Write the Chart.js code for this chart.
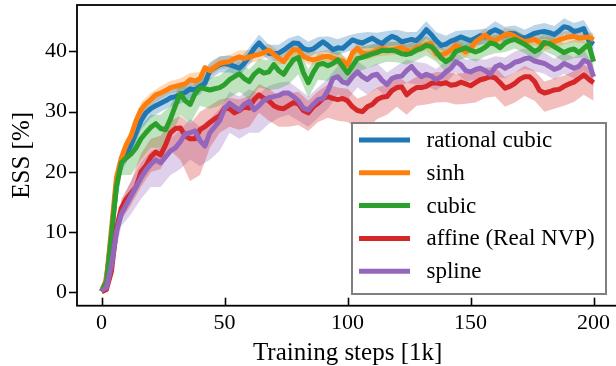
<!DOCTYPE html>
<html>
<head>
<meta charset="utf-8">
<script src="https://cdn.jsdelivr.net/npm/chart.js@4.4.1/dist/chart.umd.min.js"></script>
<style>
  html, body { margin: 0; padding: 0; background: #fff; overflow: hidden; }
  #wrap { width: 625px; height: 366px; }
</style>
</head>
<body>
<div id="wrap"><canvas id="c" width="625" height="366"></canvas></div>
<script>
// Training step grid (in thousands) for the mean curves
const steps = [0,2,4,6,8,10,12,14,16,18,20,22,24,26,28,30,32,34,36,38,40,42,44,46,48,50,52,54,56,58,60,62,64,66,68,70,72,74,76,78,80,82,84,86,88,90,92,94,96,98,100,102,104,106,108,110,112,114,116,118,120,122,124,126,128,130,132,134,136,138,140,142,144,146,148,150,152,154,156,158,160,162,164,166,168,170,172,174,176,178,180,182,184,186,188,190,192,194,196,198,200];
// Coarser grid for the spread bands
const bandSteps = [0,4,8,12,16,20,24,28,32,36,40,44,48,52,56,60,64,68,72,76,80,84,88,92,96,100,104,108,112,116,120,124,128,132,136,140,144,148,152,156,160,164,168,172,176,180,184,188,192,196,200];

const xTicks = [0, 50, 100, 150, 200];
const yTicks = [0, 10, 20, 30, 40];

// Mean ESS [%] per flow type
const rationalCubic = [0.2,2,9.5,18,21.5,23,24.5,26.5,28.5,29.8, 30.5,31,31.4,31.8,32.3,32.5,32.8,33.2,33.8,33.6, 34.2,34.7,36.8,37.3,37.8,38,37.8,37.5,37.2,38, 39.2,40.5,41.4,40.5,39.7,39.6,39.7,40.2,40.8,41.4, 41.3,40.5,40.2,40.4,41,41.6,41,40.3,40.6,40.5, 41.2,41.9,41.6,41.4,41.8,42.2,41.7,41.3,42,42.5, 42.2,41.6,41.8,42,41.8,42.6,43.6,42.8,41.8,41, 41.2,41.7,42,42.4,42.1,41.8,42.2,42.6,42.4,43.2, 43.6,43.2,42.7,43,42.9,42.4,42.2,42.6,43,43.2, 43.3,43.1,42.8,43.4,44.1,43.9,43.3,43.5,43.8,41.8, 41.2];
const sinh = [0.2,2.2,10.5,19,22.3,24.5,26,28.5,30.3,31.3, 32,32.8,33.1,33.5,34,34.2,34.4,34.6,35.3,35.1, 35.5,37.3,36.8,37.4,38,38.2,38.3,38.8,39.1,38.8, 39.1,39.3,39.5,39.8,40.2,39.5,38.9,38.3,39.5,40.3, 40.2,39.2,38.8,38.6,38.8,39.1,39.2,38.9,38.6,38.4, 37.8,39.8,40.5,39.7,39.6,39.8,40.2,40.5,40.3,40.2, 40.5,40.6,40.2,40,40.6,40.8,41.2,41.3,39.6,39.4, 39.7,40.2,41,40.6,39.9,40.5,41.6,42.2,42.7,42, 41.8,42.3,42.8,42.9,42.5,42,41.6,41.8,42,41.5, 41.2,41.4,41.6,41.9,42.2,42.4,42.5,42.2,42.3,42.4, 41.9];
const cubic = [0.2,1.8,9.5,17.5,21.5,22.3,23,24,25.5,26.5, 27.4,28,27.2,27,28.8,31,33,31.8,31.2,33, 34,33.8,33.6,33.8,34,34.5,35.3,35.8,36.3,35.5, 35,36.2,36.9,36.4,36.6,37.8,36.8,36.2,37.5,38.6, 39,36.5,34.8,36.5,37.8,38,37.6,38,38.6,37.5, 36.4,37.6,38.8,39,39.3,39.6,39.8,40.2,40.1,40.2, 40,39.6,39.5,39.7,40.2,40.5,41,40.8,40,38.9, 38.3,38.8,40,40.3,40.6,40.2,39.9,40.2,40.7,41.4, 41.2,40.6,41.4,41.8,42,41.6,41.2,40.6,40,40.4, 41.5,41.3,40.8,40.3,39.8,40.2,40.4,39.8,40.5,41.2, 38.3];
const affine = [0.1,0.5,3.5,10.5,14,15.5,16.5,17.5,20,21, 22.5,23.3,22.8,24.5,26.5,27.2,27.3,26,25.5,25.5, 27,27.5,28.2,28.8,29.3,30.6,30.5,29.8,30.2,30.8, 30.6,32,32.8,32.2,31.8,31,30.6,30.5,31,31.5, 31.3,30.2,29.8,30.8,31.4,32.2,32.5,32.2,32,32.2, 31.8,30.8,30.2,30,30.8,31.2,32,32.4,32.5,33.5, 34,34.1,32.8,33.5,34,34,34.2,34.7,34.8,34.6, 34.8,34.4,34.5,34.9,34.6,34.3,34.8,35.3,35.5,35.8, 35.6,34.8,33.9,34.2,34.7,35.4,35.8,35.8,35,33.5, 33.1,33.3,33.6,33.7,34.2,34.6,34.9,35.5,36.1,35.4, 34.8];
const spline = [0.3,0.8,4.5,10,13,14.5,16,17.5,19,20.3, 21.3,22,21.5,22.5,23.5,24,25,26.3,26.5,26.8, 25.2,24.3,26.5,27.5,28.5,30.5,31.4,30.8,30.3,31.2, 31.7,30.3,31,31.9,32.3,32.5,32.7,33.1,33.1,32.5, 31.8,30.6,30.3,31.2,32,32.2,33.5,35.5,35.8,34.9, 34.7,35.8,36.6,35.8,35.3,36,36.2,35.2,34.5,35.5, 35.8,35.9,36.8,37.5,36.5,35.8,36.2,35.9,35.3,35.8, 36.6,37.2,38.3,37.8,36.8,36.6,37,37.2,36.8,36.2, 37.4,37.8,37.2,37.6,38.2,38.4,38.8,38.9,38.4,38.2, 38,37.5,37,37.3,38,37.6,37.2,37.5,38.5,38.2, 35.8];

// Spread bands (lower / upper) on the coarser grid
const rationalCubicLo = [0.1,8.5,20,23,27,29,30,30.8,31.3,32.2,32.8,35.3,36.5,36.5,36,37.8,40,38.5,38.5,39.6,40.1,39,39.8,39.8,39.4,40,40.4,40.6,40.5,40.8,41,40.6,40.6,42.2,40.6,40,40.8,40.9,41,41.2,42.3,41.5,41.7,41,41.8,42.1,41.6,42.8,42.1,42.5,40];
const rationalCubicHi = [0.3,10.5,22.8,26,30,32,32.8,33.6,34.2,35.2,35.6,38.2,39.2,39.3,38.8,40.6,42.8,41.1,41.1,42.2,42.7,41.6,42.4,42.5,42,42.6,43,43.2,43.1,43.4,43.6,43.2,43.2,45,43.2,42.6,43.4,43.5,43.6,43.8,45,44.1,44.3,43.6,44.4,44.7,44.2,45.5,44.7,45.2,42.5];
const sinhLo = [0.1,9.5,21,24.8,29.2,31,32.1,33,33.3,34.2,34.4,35.8,37,37.3,38.1,38,38.5,39.2,37.8,38.5,39.2,37.8,37.8,38.2,37.6,36.8,39.5,38.6,39.2,39.3,39.5,39.2,39.6,40.2,38.6,38.7,40,38.9,40.6,41.7,40.8,41.8,41.5,40.6,41,40.2,40.6,41.2,41.5,41.3,40.9];
const sinhHi = [0.3,11.5,23.6,27.3,31.5,33.1,34.2,35.1,35.5,36.4,36.6,37.9,39.1,39.4,40.2,40.2,40.6,41.3,40,40.6,41.3,39.9,39.9,40.3,39.7,38.9,41.6,40.7,41.3,41.4,41.6,41.3,41.7,42.3,40.7,40.8,42.1,41,42.7,43.8,42.9,43.9,43.6,42.7,43.1,42.3,42.7,43.3,43.6,43.4,43];
const cubicLo = [0.1,8.5,19.5,19.5,22,24,24,25.5,29.5,28,31,30.5,31,32.3,33.3,32,34,33.6,33.8,34.5,36.2,32.3,35.3,35.1,36.1,34,36.6,37.2,37.8,38.3,38.2,37.8,38.5,39.3,38.3,36.6,38.3,39,38.3,39.2,39.7,39.9,40.5,39.7,38.5,40,39.3,38.3,38.9,39,36.8];
const cubicHi = [0.3,10.5,23,25,27.8,29.5,29.5,31,35,33.5,36,35.6,36,37.3,38.3,37,38.8,38.5,38.7,39.4,40.8,37,39.8,39.5,40.4,38.4,40.5,41,41.4,41.7,41.6,41.1,41.8,42.6,41.6,40,41.6,42.2,41.5,42.3,42.7,42.9,43.5,42.7,41.5,43,42.3,41.3,41.9,42,39.8];
const affineLo = [0,2.5,12,14.5,17.5,20,20.5,23.5,22,18.5,19.5,24,26.5,27.5,27,27.5,29.8,28.5,27.5,27.5,27.8,26.8,28.3,29,28.5,28.3,27,27.2,28.8,29.5,30.8,29.5,31,31.2,31.5,31.6,31.2,31.3,31.5,32.3,32.5,30.8,31.5,32.6,31.8,30,30.5,31,31.6,32.8,31.8];
const affineHi = [0.2,4.5,15.5,18.5,23,25.5,26,28.5,29.3,28,30,31,32,32.3,32,32.6,34.6,33.8,32.6,33,33.3,31.8,33.4,34.5,34,33.8,32.2,32.8,34,34.5,36,34.8,35.8,36,36.6,36.6,36.3,36.4,36.6,37.3,37.4,35.7,36.5,37.6,36.8,35,35.5,36,36.7,37.9,36.6];
const splineLo = [0.2,3.5,11,13,15.5,17.5,17.5,19.5,20.5,22,21,22,23.5,26.5,25.5,26.5,26.5,28,29,29.5,28.5,27.5,29,30.5,32.8,32,34,32.8,33.8,32.3,33.8,34.8,34.5,34.3,33.5,34.8,36.5,35,35.3,35.1,35.7,35.5,36.5,37.1,36.7,36.3,35.3,36.3,35.5,36.8,34];
const splineHi = [0.4,5.5,15,18.5,21.5,23.5,24,25.5,27,28.8,27.5,28.8,30.5,33.3,32.5,33.7,33,34.3,34.8,35,33.8,32.5,34,35.5,37.6,36.6,38.4,37.2,38,36.5,37.6,38.6,38.3,38,37.1,38.4,40,38.6,38.8,38.6,39.2,39,40,40.5,40.1,39.8,38.8,39.8,39,40.3,37.6];

const series = [
  { label: 'rational cubic', color: '#1f77b4', mean: rationalCubic, lo: rationalCubicLo, hi: rationalCubicHi },
  { label: 'sinh', color: '#ff7f0e', mean: sinh, lo: sinhLo, hi: sinhHi },
  { label: 'cubic', color: '#2ca02c', mean: cubic, lo: cubicLo, hi: cubicHi },
  { label: 'affine (Real NVP)', color: '#d62728', mean: affine, lo: affineLo, hi: affineHi },
  { label: 'spline', color: '#9467bd', mean: spline, lo: splineLo, hi: splineHi }
];

function withAlpha(hex, a) {
  const n = parseInt(hex.slice(1), 16);
  return `rgba(${(n >> 16) & 255},${(n >> 8) & 255},${n & 255},${a})`;
}
const pts = (xs, ys) => xs.map((x, i) => ({ x, y: ys[i] }));

const datasets = [];
series.forEach((s, k) => {
  datasets.push({
    label: s.label + ' lo', data: pts(bandSteps, s.lo), isBand: true,
    borderWidth: 0, borderColor: 'transparent', pointRadius: 0, fill: false, order: 20 + k
  });
  datasets.push({
    label: s.label + ' hi', data: pts(bandSteps, s.hi), isBand: true,
    borderWidth: 0, borderColor: 'transparent', pointRadius: 0,
    fill: '-1', backgroundColor: withAlpha(s.color, 0.3), order: 20 + k
  });
});
series.forEach((s, k) => {
  datasets.push({
    label: s.label, data: pts(steps, s.mean), isBand: false,
    borderColor: s.color, backgroundColor: s.color, borderWidth: 5,
    borderJoinStyle: 'round', borderCapStyle: 'butt',
    pointRadius: 0, fill: false, tension: 0, order: 10 - k
  });
});

const FONT = 'Liberation Serif, Times New Roman, serif';

// Frame, tick marks and boxed legend
const decorations = {
  id: 'decorations',
  afterDatasetsDraw(chart) {
    const { ctx, chartArea: a, scales } = chart;
    ctx.save();
    ctx.strokeStyle = '#000';
    ctx.lineWidth = 1.6;
    yTicks.forEach(v => {
      const y = Math.round(scales.y.getPixelForValue(v)) + 0.5;
      ctx.beginPath(); ctx.moveTo(a.left - 8, y); ctx.lineTo(a.left, y); ctx.stroke();
    });
    xTicks.forEach(v => {
      const x = Math.round(scales.x.getPixelForValue(v)) + 0.5;
      ctx.beginPath(); ctx.moveTo(x, a.bottom); ctx.lineTo(x, a.bottom - 8); ctx.stroke();
    });
    ctx.lineWidth = 1.8;
    ctx.strokeRect(a.left, a.top, a.right - a.left, a.bottom - a.top);
    ctx.restore();
  },
  afterDraw(chart) {
    const { ctx } = chart;
    const box = { x: 352, y: 123, w: 254, h: 171 };
    ctx.save();
    ctx.fillStyle = 'rgba(255,255,255,0.9)';
    ctx.fillRect(box.x, box.y, box.w, box.h);
    ctx.strokeStyle = '#7f7f7f';
    ctx.lineWidth = 2;
    ctx.strokeRect(box.x, box.y, box.w, box.h);
    const lines = chart.data.datasets.filter(d => !d.isBand);
    ctx.font = '23px ' + FONT;
    ctx.textBaseline = 'middle';
    ctx.fillStyle = '#000';
    lines.forEach((d, i) => {
      const y = 140 + i * 32.8;
      ctx.strokeStyle = d.borderColor;
      ctx.lineWidth = 5;
      ctx.beginPath(); ctx.moveTo(359, y); ctx.lineTo(410, y); ctx.stroke();
      ctx.fillText(d.label, 426.5, y + 1);
    });
    ctx.restore();
  }
};

new Chart(document.getElementById('c'), {
  type: 'line',
  data: { datasets },
  options: {
    responsive: false,
    animation: false,
    devicePixelRatio: 1,
    layout: { padding: { top: 5, right: 6.8, left: 0, bottom: 0 } },
    plugins: {
      legend: { display: false },
      tooltip: { enabled: false },
      filler: { drawTime: 'beforeDatasetsDraw' }
    },
    scales: {
      x: {
        type: 'linear', min: -10, max: 210,
        afterBuildTicks: s => { s.ticks = xTicks.map(v => ({ value: v })); },
        afterFit: s => { s.height = 60.3; s.paddingLeft = 0; s.paddingRight = 0; },
        grid: { display: false, drawTicks: false },
        border: { display: false },
        ticks: { font: { family: FONT, size: 22 }, color: '#000', padding: 4, maxRotation: 0 },
        title: { display: true, text: 'Training steps [1k]', color: '#000',
                 font: { family: FONT, size: 25, lineHeight: 1 }, padding: { top: 0, bottom: 0 } }
      },
      y: {
        type: 'linear', min: -2.2, max: 47.7,
        afterBuildTicks: s => { s.ticks = yTicks.map(v => ({ value: v })); },
        afterFit: s => { s.width = 77; s.paddingTop = 0; s.paddingBottom = 0; },
        grid: { display: false, drawTicks: false },
        border: { display: false },
        ticks: { font: { family: FONT, size: 22 }, color: '#000', padding: 10 },
        title: { display: true, text: 'ESS [%]', color: '#000',
                 font: { family: FONT, size: 25, lineHeight: 1 }, padding: { top: 9.5, bottom: 0 } }
      }
    }
  },
  plugins: [decorations]
});
</script>
</body>
</html>
